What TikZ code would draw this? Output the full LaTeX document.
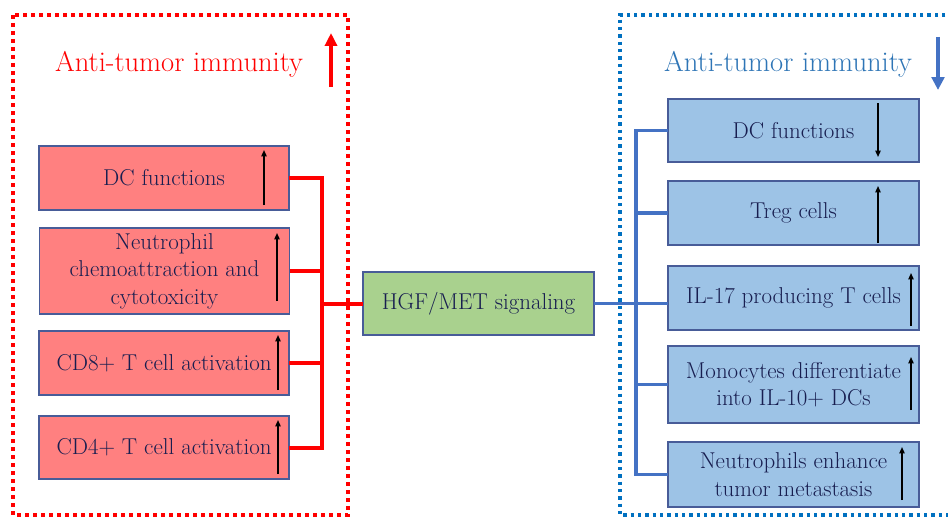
\documentclass[tikz,border=0pt]{standalone}
\usetikzlibrary{arrows.meta,calc}
\definecolor{boxedge}{RGB}{72,92,152}
\definecolor{pinkfill}{RGB}{255,128,128}
\definecolor{bluefill}{RGB}{157,195,230}
\definecolor{greenfill}{RGB}{169,209,142}
\definecolor{navytext}{RGB}{24,30,80}
\definecolor{frameblue}{RGB}{0,112,192}
\definecolor{linkblue}{RGB}{68,114,196}
\definecolor{titleblue}{RGB}{46,117,182}
\begin{document}
\begin{tikzpicture}[x=0.75pt,y=-0.75pt,
  box/.style={draw=boxedge,line width=0.9pt,inner sep=0pt,outer sep=0pt,
    align=center,text=navytext,font=\fontsize{17.2}{20.7}\selectfont},
  upbox/.style={box,fill=pinkfill,minimum width=187.5pt},
  downbox/.style={box,fill=bluefill,minimum width=188.25pt},
  hubbox/.style={box,fill=greenfill,minimum width=173.25pt,minimum height=47.25pt},
  redframe/.style={draw=red,line width=3pt,dash pattern=on 3pt off 3pt},
  blueframe/.style={draw=frameblue,line width=2.6pt,dash pattern=on 2.6pt off 2.9pt},
  redlink/.style={draw=red,line width=3pt},
  bluelink/.style={draw=linkblue,line width=2.3pt},
  trend/.style={line width=1.1pt,-{Triangle[length=4.8pt,width=4pt]}},
  title/.style={anchor=base,font=\fontsize{21.4}{24}\selectfont}
]
\fill[white] (0,0) rectangle (948,517);
\useasboundingbox (0,0) rectangle (948,517);

% dotted frames
\draw[redframe] (13,15) rectangle (348,515);
\draw[blueframe] (960,15) -- (620,15) -- (620,515) -- (960,515);

% titles with overall trend arrows
\node[title,text=red] (titleL) at (179,71) {Anti-tumor immunity};
\node[title,text=titleblue] (titleR) at (788,71) {Anti-tumor immunity};
\draw[red,line width=3pt,-{Triangle[length=9.75pt,width=9pt]}] (331,87) -- (331,33);
\draw[linkblue,line width=2.6pt,-{Triangle[length=9.75pt,width=9.5pt]}] (938,37) -- (938,90);

% left column
\node[upbox,minimum height=48pt] (l1) at (164,178) {DC functions};
\node[upbox,minimum height=64.5pt] (l2) at (164.5,271) {Neutrophil\\chemoattraction and\\cytotoxicity};
\node[upbox,minimum height=48pt] (l3) at (164,363) {CD8+ T cell activation};
\node[upbox,minimum height=47.25pt] (l4) at (164,447.5) {CD4+ T cell activation};

% hub
\node[hubbox] (hgf) at (478.5,303.5) {HGF/MET signaling};

% right column
\node[downbox,minimum height=47.25pt] (r1) at (793.5,130.5) {DC functions};
\node[downbox,minimum height=48pt] (r2) at (793.5,213) {Treg cells};
\node[downbox,minimum height=48pt] (r3) at (793.5,298) {IL-17 producing T cells};
\node[downbox,minimum height=57.75pt] (r4) at (793.5,384.5) {Monocytes differentiate\\into IL-10+ DCs};
\node[downbox,minimum height=48.75pt] (r5) at (793.5,474.5) {Neutrophils enhance\\tumor metastasis};

% trend arrows inside boxes
\draw[trend] (264,205) -- (264,150);
\draw[trend] (277,301) -- (277,233);
\draw[trend] (278,390) -- (278,335);
\draw[trend] (278,474) -- (278,420);
\draw[trend] (878,103) -- (878,157);
\draw[trend] (878,243) -- (878,186);
\draw[trend] (911,326) -- (911,273);
\draw[trend] (911,410) -- (911,357);
\draw[trend] (902,500) -- (902,447);

% connectors
\coordinate (busL) at (322,300);
\coordinate (busR) at (636,300);
\draw[redlink] (l1.east) -- (l1.east -| busL) |- (l4.east);
\draw[redlink] (l2.east) -- (l2.east -| busL);
\draw[redlink] (l3.east) -- (l3.east -| busL);
\draw[redlink] (hgf.west) -- (hgf.west -| busL);
\draw[bluelink] (r1.west) -- (r1.west -| busR) |- (r5.west);
\draw[bluelink] (r2.west) -- (r2.west -| busR);
\draw[bluelink] (r4.west) -- (r4.west -| busR);
\draw[bluelink] (hgf.east) -- (hgf.east -| r3.west);
\end{tikzpicture}
\end{document}
